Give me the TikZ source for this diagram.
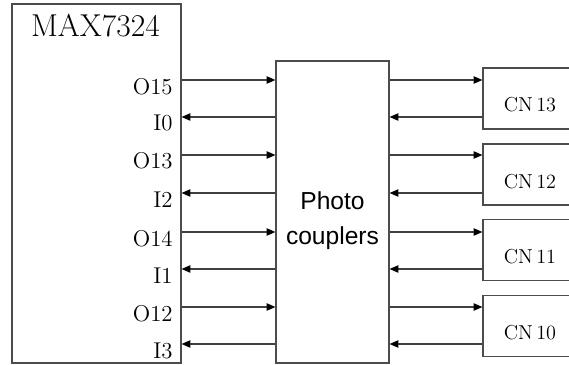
\documentclass[tikz,border=0pt]{standalone}
\usepackage{fontspec}
\setsansfont{Liberation Sans}
\usetikzlibrary{arrows.meta, positioning}

\begin{document}
\begin{tikzpicture}[
  x=0.02cm, y=-0.02cm,
  blk/.style = {draw=black!70, line width=0.7pt, inner sep=0pt},
  pin/.style = {anchor=base east, inner sep=0pt, font=\fontsize{13}{15}\selectfont},
  cnlabel/.style = {anchor=base, inner sep=0pt, font=\fontsize{11.5}{14}\selectfont},
  arr/.style = {-{Triangle[length=5pt, width=4.2pt, color=black]}, draw=black!75, line width=0.7pt},
]
\clip (0,0) rectangle (569,365);

\node[blk, minimum width=3.38cm, minimum height=7.18cm] (max) at (96.5,183.5) {};
\node[anchor=base, inner sep=0pt, font=\fontsize{18}{21}\selectfont] (title) at (95.5,36) {MAX7324};

\node[blk, minimum width=2.26cm, minimum height=6.04cm] (pc) at (332.5,212) {};
\node[align=center, inner sep=0pt, font=\sffamily\fontsize{14}{20}\selectfont] (pctext) at (332.5,221) {Photo\\couplers};

% connector boxes, cut by the right edge
\foreach \c/\y in {13/98.5, 12/174.5, 11/250, 10/326} {
  \node[blk, minimum width=2.4cm, minimum height=1.22cm] (cn\c) at (543,\y) {};
  \node[cnlabel] (cnlab\c) at (530,\y+13.5) {CN\,\c};
}

\foreach \ya/\yb/\oa/\ib/\c in {80/117/O15/I0/13, 155/193/O13/I2/12, 232/269/O14/I1/11, 307/344/O12/I3/10} {
  \coordinate (ra) at (0,\ya);
  \coordinate (rb) at (0,\yb);
  \node[pin] (pin\oa) at (173,\ya+14) {\oa};
  \node[pin] (pin\ib) at (173,\yb+14) {\ib};
  \draw[arr] (max.east |- ra) -- (pc.west |- ra);
  \draw[arr] (pc.west |- rb) -- (max.east |- rb);
  \draw[arr] (pc.east |- ra) -- (cn\c.west |- ra);
  \draw[arr] (cn\c.west |- rb) -- (pc.east |- rb);
}

\end{tikzpicture}
\end{document}
